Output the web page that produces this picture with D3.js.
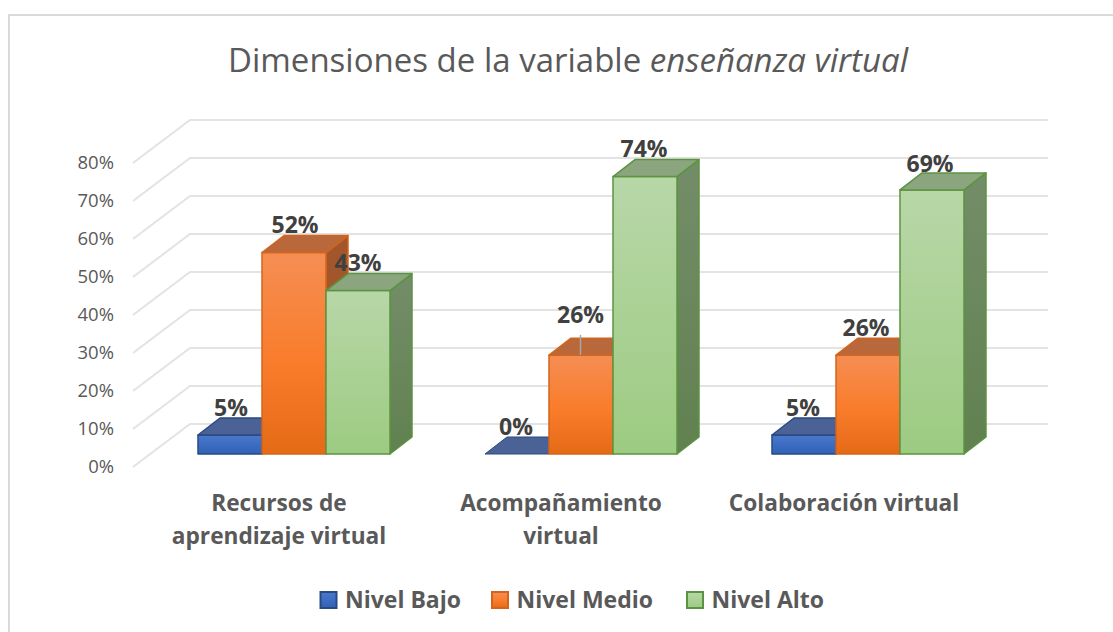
<!DOCTYPE html>
<html>
<head>
<meta charset="utf-8">
<title>Dimensiones de la variable enseñanza virtual</title>
<script src="https://d3js.org/d3.v7.min.js"></script>
<style>
    html, body { margin: 0; background: #fff; }
    svg { display: block; }
    text { font-family: "Open Sans", "Noto Sans", sans-serif; }
</style>
</head>
<body>
<div id="chart"></div>
<script>
const categories = [["Recursos de", "aprendizaje virtual"], ["Acompañamiento", "virtual"], ["Colaboración virtual"]];
const seriesNames = ["Nivel Bajo", "Nivel Medio", "Nivel Alto"];
const nivelBajo = [5, 0, 5];
const nivelMedio = [53, 26, 26];
const nivelAlto = [43, 73, 69.5];
const dataLabels = [["5%", "0%", "5%"], ["52%", "26%", "26%"], ["43%", "74%", "69%"]];
const yTicks = [0, 10, 20, 30, 40, 50, 60, 70, 80];

const width = 1113, height = 632;
const depth = { x: 22, y: -17 };   // shift from the front of a bar to its back

const svg = d3.select("#chart").append("svg").attr("width", width).attr("height", height);

const x0 = d3.scaleBand().domain(d3.range(3)).range([150.5, 1011.5]);
const y = d3.scaleLinear().domain([0, 80]).range([454, 150]);
const barW = 64;
const groupStart = i => x0(i) + (x0.bandwidth() - barW * 3) / 2;

const palettes = [
    { top: "#4b6296", side: "#2f4f86", edge: "#2a4a7f", a: "#4a78cc", b: "#2f62b8" },
    { top: "#b8683a", side: "#a1572b", edge: "#d2641c", a: "#f58e54", b: "#e56a16" },
    { top: "#8ba57f", side: "#6b8a5e", edge: "#5b9440", a: "#b8d7a8", b: "#9dcb82" }
];

const defs = svg.append("defs");
palettes.forEach((p, i) => {
    const g = defs.append("linearGradient").attr("id", "front" + i)
        .attr("x1", 0).attr("x2", 0).attr("y1", 0).attr("y2", 1);
    g.append("stop").attr("offset", "0%").attr("stop-color", p.a);
    if (i == 1) g.append("stop").attr("offset", "55%").attr("stop-color", "#f97c2a");
    g.append("stop").attr("offset", "100%").attr("stop-color", p.b);
    const s = defs.append("linearGradient").attr("id", "side" + i)
        .attr("x1", 0).attr("x2", 0).attr("y1", 0).attr("y2", 1);
    s.append("stop").attr("offset", "0%").attr("stop-color", i == 2 ? "#748d69" : p.side);
    s.append("stop").attr("offset", "100%").attr("stop-color", i == 2 ? "#618150" : p.side);
});

// chart frame, only the top and left edges are inside the picture
svg.append("path")
    .attr("d", "M9,632V15H1113")
    .attr("fill", "none").attr("stroke", "#d9d9d9").attr("stroke-width", 2);

svg.append("text").attr("x", 568).attr("y", 72)
    .attr("text-anchor", "middle").attr("font-size", 33).attr("fill", "#595959")
    .attr("textLength", 680).attr("lengthAdjust", "spacingAndGlyphs")
    .text("Dimensiones de la variable ")
    .append("tspan").attr("font-style", "italic").text("enseñanza virtual");

// floor and back wall gridlines
const wallX = 190, floorX = 133, gridEnd = 1048;
const gridY = d => y(d) - 30;
const grid = svg.append("g").attr("fill", "none").attr("stroke", "#e3e3e3").attr("stroke-width", 2);
grid.selectAll("path").data(yTicks).join("path")
    .attr("d", d => `M${floorX},${gridY(d) + 43}L${wallX},${gridY(d)}H${gridEnd}`);

svg.append("g").selectAll("text").data(yTicks).join("text")
    .attr("x", 114).attr("y", d => y(d) + 18.5)
    .attr("text-anchor", "end").attr("font-size", 18.5).attr("fill", "#595959")
    .text(d => d + "%");

// bars, left to right within a group so each one covers the side of the one before
const series = [nivelBajo, nivelMedio, nivelAlto];
const bars = svg.append("g");
categories.forEach((c, i) => {
    series.forEach((vals, s) => {
        const p = palettes[s];
        const g = bars.append("g").attr("stroke-linejoin", "round");
        const x1 = groupStart(i) + s * barW, x2 = x1 + barW;
        const y1 = y(vals[i]), yb = y(0);
        const d = depth;
        if (vals[i] > 0) {
            g.append("path")
                .attr("d", `M${x2},${y1}l${d.x},${d.y}V${yb + d.y}L${x2},${yb}Z`)
                .attr("fill", `url(#side${s})`).attr("stroke", p.edge).attr("stroke-width", 1.5);
            g.append("rect").attr("x", x1).attr("y", y1).attr("width", barW).attr("height", yb - y1)
                .attr("fill", `url(#front${s})`).attr("stroke", p.edge).attr("stroke-width", 1.5);
        }
        g.append("path")
            .attr("d", `M${x1},${y1}l${d.x},${d.y}h${barW}l${-d.x},${-d.y}Z`)
            .attr("fill", p.top).attr("stroke", p.edge).attr("stroke-width", vals[i] > 0 ? 1.5 : 1);
    });
});

// leader line of the 26% label
svg.append("line").attr("x1", 580.5).attr("x2", 580.5).attr("y1", 335).attr("y2", 355)
    .attr("stroke", "#a6a6a6").attr("stroke-width", 1.5);

// label anchors by series, then category
const labelX = [[231, 516, 803], [295, 580.5, 866], [358, 644, 930]];
const labelY = [[416, 435, 416], [233, 323, 336], [271, 157, 172]];
dataLabels.forEach((row, s) => {
    row.forEach((label, i) => {
        svg.append("text").attr("x", labelX[s][i]).attr("y", labelY[s][i])
            .attr("text-anchor", "middle").attr("font-size", 23).attr("font-weight", 700)
            .attr("fill", "#404040").text(label);
    });
});

// category labels
const categoryX = [279, 561, 844];
categories.forEach((c, i) => {
    const t = svg.append("text").attr("text-anchor", "middle")
        .attr("font-size", 22.7).attr("font-weight", 700).attr("fill", "#595959");
    c.forEach((line, k) => {
        t.append("tspan").attr("x", categoryX[i]).attr("y", 511 + k * 33).text(line);
    });
});

// legend
const legendX = [319.5, 491, 686];
const legend = svg.append("g").selectAll("g").data(seriesNames).join("g")
    .attr("transform", (d, i) => `translate(${legendX[i]},592)`);
legend.append("rect").attr("x", 1).attr("y", 0).attr("width", 16).attr("height", 16)
    .attr("fill", (d, i) => `url(#front${i})`)
    .attr("stroke", (d, i) => palettes[i].edge).attr("stroke-width", 2);
legend.append("text").attr("x", 25.5).attr("y", 16)
    .attr("font-size", 23).attr("font-weight", 700).attr("fill", "#595959")
    .text(d => d);
</script>
</body>
</html>
